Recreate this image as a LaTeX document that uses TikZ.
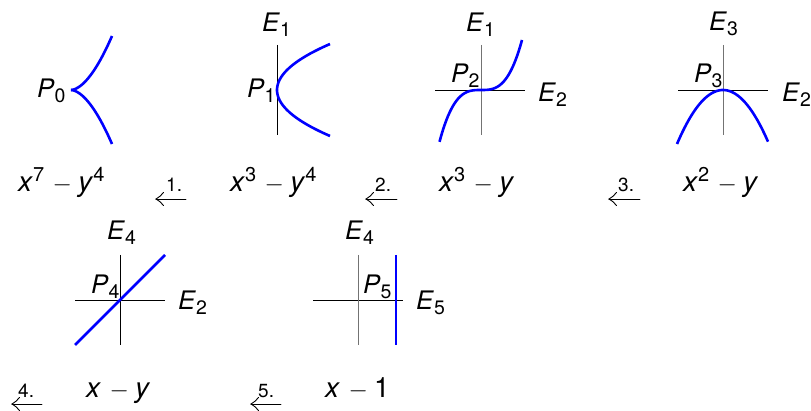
\documentclass[tikz,border=0pt]{standalone}
\usepackage{fontspec}
\setmainfont{TeX Gyre Heros}
\newcommand{\sbs}[1]{\raisebox{-0.3ex}{\fontsize{19.5}{19.5}\selectfont #1}}
\newcommand{\sps}[1]{\raisebox{0.7ex}{\fontsize{20}{20}\selectfont #1}}
\newcommand{\mn}{\hspace{0.3em}$-$\hspace{0.22em}}
\newcommand{\cmhead}[1]{%
  \draw[stepline] (#1) .. controls +(3,-1) and +(-2.5,2.5) .. +(7.5,-6.5);
  \draw[stepline] (#1) .. controls +(3,1) and +(-2.5,-2.5) .. +(7.5,6.5);}
\tikzset{
  lab/.style={inner sep=0pt, anchor=base west, font=\fontsize{25.5}{28}\selectfont},
  form/.style={inner sep=0pt, anchor=base west, font=\fontsize{28}{30}\selectfont},
  steplab/.style={inner sep=0pt, anchor=base west, font=\fontsize{19}{20}\selectfont},
  axis/.style={line width=0.9pt, black},
  axisg/.style={line width=0.9pt, black!55},
  curve/.style={line width=2.6pt, blue},
  stepline/.style={line width=0.9pt, line cap=round}
}
\begin{document}
\begin{tikzpicture}[x=1pt,y=-1pt]
\useasboundingbox (0,0) rectangle (811,411);
% ---------- panel 0 ----------
\coordinate (p0) at (71,90);
\node[lab] (P0) at (37,98) {\textit{P}\sbs{0}};
\draw[curve] plot[domain=0.01:41,samples=40] ({71+\x},{90-54*(\x/41)^1.75});
\draw[curve] plot[domain=0.01:41,samples=40] ({71+\x},{90+54*(\x/41)^1.75});
\node[form] (f0) at (18,192) {\textit{x}\sps{7}\mn\textit{y}\sps{4}};
% ---------- panel 1 ----------
\coordinate (v1t) at (277,45); \coordinate (v1b) at (277,135);
\draw[axis] (v1t) -- (v1b);
\draw[curve] plot[domain=-46:46,samples=40] ({277+53*(\x/46)^2},{90+\x});
\node[lab] (E1a) at (262,32) {\textit{E}\sbs{1}};
\node[lab] (P1) at (247,98) {\textit{P}\sbs{1}};
\node[form] (f1) at (230,192) {\textit{x}\sps{3}\mn\textit{y}\sps{4}};
% ---------- panel 2 ----------
\coordinate (h2l) at (435,90); \coordinate (h2r) at (525,90);
\coordinate (v2t) at (481,45); \coordinate (v2b) at (481,135);
\draw[axis] (h2l) -- (h2r);
\draw[axisg] (v2t) -- (v2b);
\draw[curve] plot[domain=-41.5:41,samples=50] ({481+\x},{90-50*(\x/41)^3});
\node[lab] (E1b) at (466,32) {\textit{E}\sbs{1}};
\node[lab] (P2) at (451,83) {\textit{P}\sbs{2}};
\node[lab] (E2a) at (538,102) {\textit{E}\sbs{2}};
\node[form] (f2) at (439,192) {\textit{x}\sps{3}\mn\textit{y}};
% ---------- panel 3 ----------
\coordinate (h3l) at (678,90); \coordinate (h3r) at (768,90);
\coordinate (v3t) at (723,45); \coordinate (v3b) at (723,135);
\draw[axis] (h3l) -- (h3r);
\draw[axisg] (v3t) -- (v3b);
\draw[curve] plot[domain=-46:45,samples=50] ({723+\x},{90+54*(\x/46)^2});
\node[lab] (E3) at (709,31) {\textit{E}\sbs{3}};
\node[lab] (P3) at (694,83) {\textit{P}\sbs{3}};
\node[lab] (E2b) at (782,102) {\textit{E}\sbs{2}};
\node[form] (f3) at (683,192) {\textit{x}\sps{2}\mn\textit{y}};
% ---------- step arrows row 1 ----------
\coordinate (a1r) at (186,199); \coordinate (a1l) at (156,199);
\draw[stepline] (a1r) -- (a1l); \cmhead{a1l}
\node[steplab] (s1) at (166,192) {1.};
\coordinate (a2r) at (397,199); \coordinate (a2l) at (366,199);
\draw[stepline] (a2r) -- (a2l); \cmhead{a2l}
\node[steplab] (s2) at (375,192) {2.};
\coordinate (a3r) at (640,199); \coordinate (a3l) at (609,199);
\draw[stepline] (a3r) -- (a3l); \cmhead{a3l}
\node[steplab] (s3) at (618,192) {3.};
% ---------- panel 4 ----------
\coordinate (h4l) at (75,300); \coordinate (h4r) at (165,300);
\coordinate (v4t) at (120,255); \coordinate (v4b) at (120,345);
\coordinate (c4a) at (75,345); \coordinate (c4b) at (165,255);
\draw[axis] (h4l) -- (h4r);
\draw[axis] (v4t) -- (v4b);
\draw[curve] (c4a) -- (c4b);
\node[lab] (E4a) at (107,240) {\textit{E}\sbs{4}};
\node[lab] (P4) at (91,294) {\textit{P}\sbs{4}};
\node[lab] (E2c) at (178,310) {\textit{E}\sbs{2}};
\node[form] (f4) at (86,397) {\textit{x}\mn\textit{y}};
% ---------- panel 5 ----------
\coordinate (h5l) at (313,300); \coordinate (h5r) at (403,300);
\coordinate (v5t) at (358,255); \coordinate (v5b) at (358,345);
\coordinate (c5t) at (396,255); \coordinate (c5b) at (396,345);
\draw[axis] (h5l) -- (h5r);
\draw[axisg] (v5t) -- (v5b);
\draw[curve] (c5t) -- (c5b);
\node[lab] (E4b) at (345,240) {\textit{E}\sbs{4}};
\node[lab] (P5) at (363,294) {\textit{P}\sbs{5}};
\node[lab] (E5) at (416,310) {\textit{E}\sbs{5}};
\node[form] (f5) at (325,397) {\textit{x}\mn 1};
% ---------- step arrows row 2 ----------
\coordinate (a4r) at (42,404); \coordinate (a4l) at (12,404);
\draw[stepline] (a4r) -- (a4l); \cmhead{a4l}
\node[steplab] (s4) at (18,398) {4.};
\coordinate (a5r) at (281,404); \coordinate (a5l) at (251,404);
\draw[stepline] (a5r) -- (a5l); \cmhead{a5l}
\node[steplab] (s5) at (258,398) {5.};
\end{tikzpicture}
\end{document}
